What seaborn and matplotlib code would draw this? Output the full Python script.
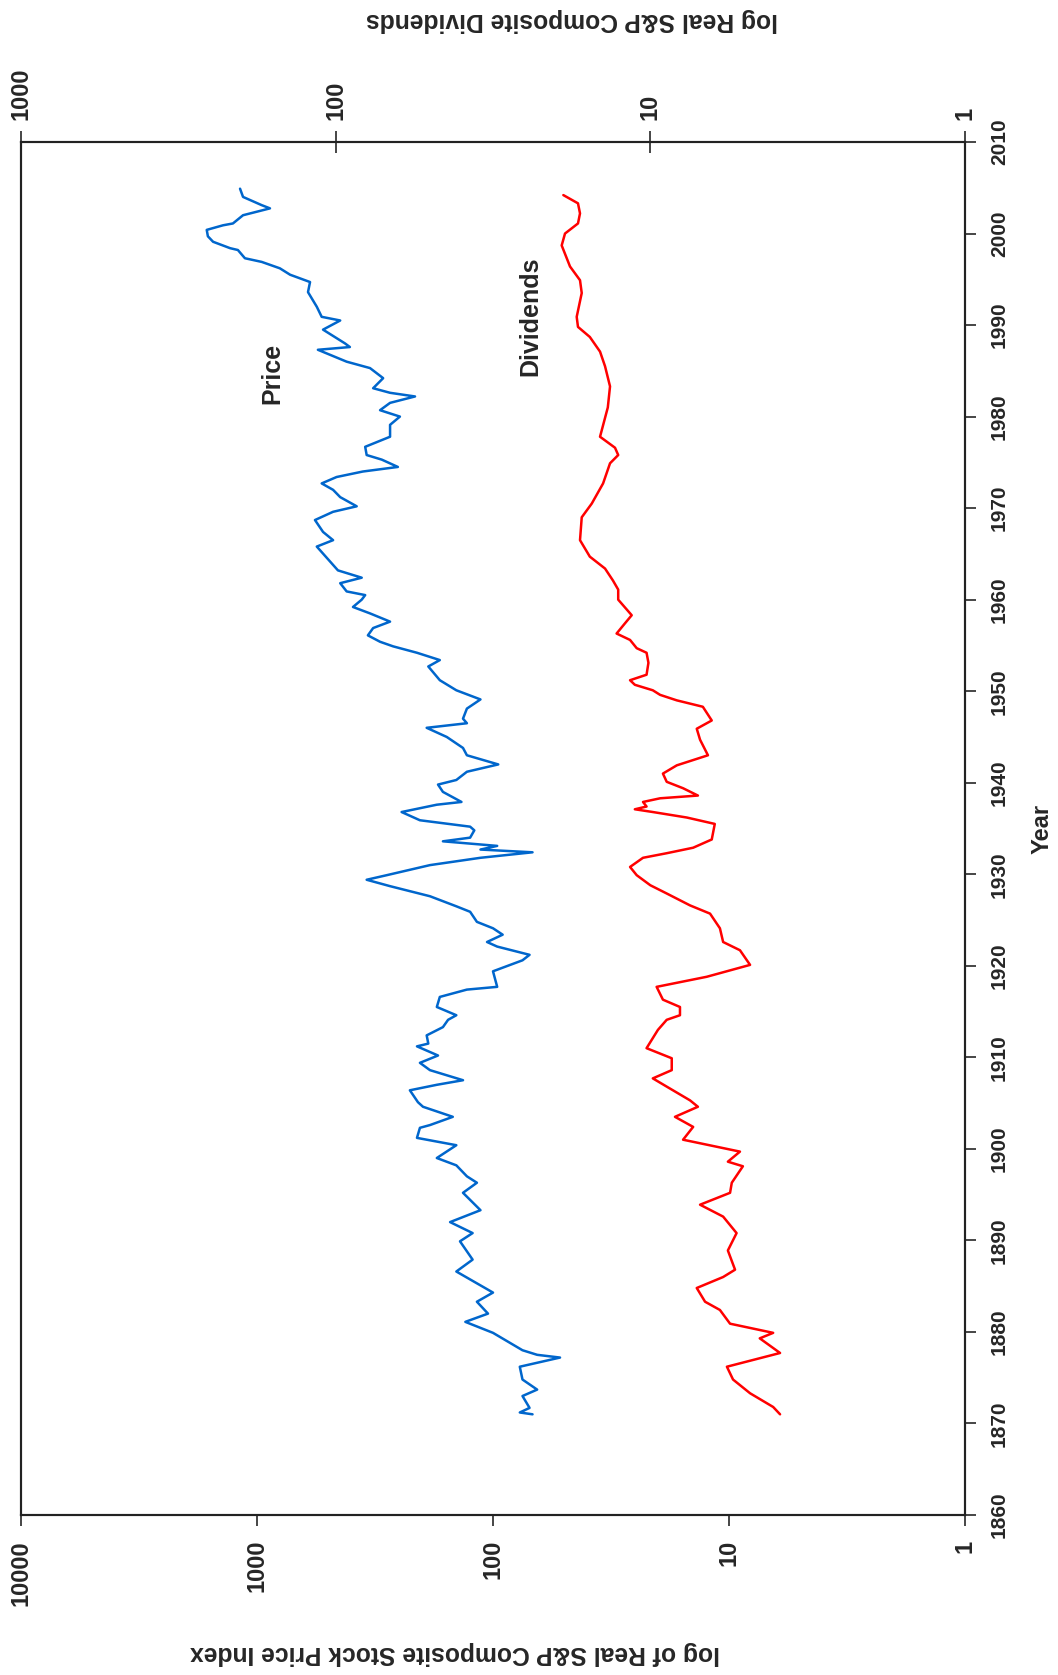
import numpy as np
import pandas as pd
import matplotlib
matplotlib.use('Agg')
import matplotlib.pyplot as plt
import seaborn as sns

# real S&P composite price index
price_year = [1871.0, 1871.2, 1871.7, 1873.0, 1873.7, 1874.8, 1876.2, 1877.2, 1877.5, 1878.0,
              1879.9, 1881.1, 1882.0, 1883.3, 1884.3, 1886.6, 1887.9, 1889.9, 1890.8, 1892.0,
              1893.3, 1895.2, 1896.3, 1897.0, 1898.2, 1899.0, 1900.4, 1901.2, 1902.3, 1902.6,
              1903.5, 1904.6, 1905.1, 1906.4, 1907.0, 1907.5, 1908.6, 1909.4, 1910.2, 1911.2,
              1911.5, 1912.4, 1913.3, 1914.1, 1914.6, 1915.5, 1916.6, 1917.4, 1917.7, 1919.4,
              1920.6, 1921.2, 1922.1, 1922.6, 1923.4, 1924.1, 1924.8, 1925.9, 1926.5, 1927.6,
              1928.7, 1929.4, 1929.9, 1931.0, 1931.8, 1932.4, 1932.7, 1933.1, 1933.6, 1934.0,
              1934.8, 1935.2, 1935.9, 1936.8, 1937.6, 1937.9, 1939.0, 1939.8, 1940.3, 1941.2,
              1942.0, 1943.0, 1943.8, 1945.0, 1946.0, 1946.5, 1947.0, 1948.1, 1949.1, 1950.1,
              1951.2, 1952.7, 1953.4, 1954.2, 1954.9, 1955.4, 1956.1, 1956.9, 1957.6, 1958.5,
              1959.2, 1960.0, 1960.5, 1960.9, 1961.8, 1962.4, 1963.2, 1964.6, 1965.8, 1966.5,
              1967.4, 1968.7, 1969.6, 1970.2, 1971.2, 1972.0, 1972.7, 1973.4, 1974.0, 1974.5,
              1975.3, 1975.8, 1976.7, 1977.8, 1979.1, 1980.0, 1980.7, 1981.5, 1982.2, 1982.6,
              1983.1, 1984.2, 1985.3, 1986.0, 1987.3, 1987.6, 1988.0, 1989.5, 1990.5, 1990.9,
              1992.0, 1993.6, 1994.7, 1995.5, 1996.2, 1996.9, 1997.3, 1998.2, 1998.4, 1999.1,
              1999.7, 2000.4, 2000.9, 2001.1, 2002.0, 2002.75, 2003.1, 2004.0, 2004.9]
price = [68, 77, 70, 75, 65, 75, 77, 52, 65, 75,
         100, 131, 105, 117, 100, 143, 122, 138, 122, 152,
         113, 134, 117, 129, 143, 173, 143, 210, 204, 185,
         148, 198, 208, 225, 173, 134, 185, 204, 171, 210,
         188, 191, 163, 155, 143, 173, 168, 129, 96, 100,
         75, 70, 96, 106, 91, 100, 117, 125, 143, 185,
         273, 343, 282, 185, 113, 68, 113, 96, 163, 125,
         120, 125, 204, 244, 173, 136, 163, 171, 143, 129,
         95, 129, 134, 157, 191, 129, 134, 129, 113, 143,
         168, 188, 168, 210, 265, 301, 339, 322, 273, 332,
         392, 360, 348, 417, 444, 360, 454, 507, 558, 476,
         525, 568, 476, 378, 444, 476, 532, 460, 356, 253,
         296, 343, 348, 273, 273, 248, 301, 273, 214, 273,
         322, 292, 332, 417, 552, 404, 424, 525, 444, 532,
         558, 608, 596, 724, 800, 955, 1125, 1205, 1300, 1535,
         1615, 1633, 1393, 1265, 1146, 881, 955, 1146, 1180]

# real S&P composite dividends
div_year = [1871.0, 1871.8, 1873.3, 1874.8, 1876.2, 1877.7, 1879.3, 1879.9, 1880.9, 1882.4,
            1883.3, 1884.8, 1886.0, 1886.8, 1888.9, 1890.8, 1892.6, 1893.9, 1895.2, 1896.3,
            1898.1, 1898.6, 1899.7, 1901.0, 1902.4, 1903.5, 1904.6, 1905.3, 1906.8, 1907.7,
            1908.6, 1909.9, 1911.0, 1913.0, 1914.1, 1914.6, 1915.5, 1916.3, 1917.7, 1918.8,
            1920.1, 1921.7, 1922.6, 1924.1, 1925.7, 1926.6, 1927.9, 1928.8, 1929.9, 1930.8,
            1931.8, 1932.3, 1932.9, 1933.8, 1935.5, 1936.2, 1936.8, 1937.1, 1937.4, 1937.9,
            1938.3, 1938.6, 1939.4, 1940.1, 1941.0, 1941.9, 1943.0, 1944.7, 1945.9, 1946.8,
            1948.3, 1949.0, 1949.6, 1950.1, 1950.7, 1951.2, 1951.8, 1953.1, 1954.2, 1954.7,
            1955.6, 1956.3, 1957.4, 1958.3, 1960.0, 1961.1, 1962.1, 1963.4, 1964.7, 1966.5,
            1969.0, 1970.5, 1972.7, 1974.9, 1975.8, 1976.6, 1977.8, 1981.0, 1983.3, 1985.5,
            1987.1, 1988.7, 1989.8, 1990.9, 1993.5, 1994.9, 1996.4, 1998.7, 2000.0, 2001.1,
            2002.2, 2003.3, 2004.2]
dividend = [3.87, 4.07, 4.82, 5.46, 5.71, 3.87, 4.49, 4.07, 5.58, 6.01,
            6.70, 7.12, 5.87, 5.38, 5.67, 5.32, 5.87, 6.95, 5.58, 5.51,
            5.08, 5.67, 5.19, 7.87, 7.31, 8.35, 7.06, 7.48, 8.87, 9.82,
            8.55, 8.55, 10.28, 9.46, 8.87, 8.05, 8.05, 9.12, 9.55, 6.62,
            4.82, 5.19, 5.87, 6.01, 6.46, 7.48, 8.87, 10.0, 11.05, 11.6,
            10.55, 8.87, 7.31, 6.38, 6.24, 7.66, 9.82, 11.2, 10.28, 10.55,
            9.31, 7.06, 7.87, 8.87, 9.12, 8.24, 6.56, 6.95, 7.12, 6.38,
            6.81, 8.24, 9.31, 9.82, 11.2, 11.6, 10.28, 10.14, 10.28, 11.05,
            11.6, 12.8, 12.05, 11.46, 12.65, 12.65, 13.15, 13.93, 15.57, 16.73,
            16.52, 15.35, 14.13, 13.43, 12.65, 12.95, 14.45, 13.65, 13.43, 13.93,
            14.45, 15.57, 16.98, 17.14, 16.52, 16.73, 18.0, 19.13, 18.67, 16.98,
            16.73, 16.98, 18.9]

price_ticks = [10000, 1000, 100, 10, 1]
div_ticks = [1000, 100, 10, 1]
year_ticks = list(range(1860, 2011, 10))

price_df = pd.DataFrame({'year': price_year, 'price': price})
div_df = pd.DataFrame({'year': div_year, 'dividend': dividend})

sns.set_style('white')
plt.rcParams['font.family'] = ['Liberation Sans', 'DejaVu Sans']
plt.rcParams['font.weight'] = 'bold'
plt.rcParams['axes.labelweight'] = 'bold'

fig, ax = plt.subplots(figsize=(10.58, 16.75), dpi=100)
ax2 = ax.twiny()
box = [21/1058, 1 - 1515/1675, 944/1058, 1373/1675]
ax.set_position(box)
ax2.set_position(box)

# the whole chart is turned on its side: years run up the right edge
sns.lineplot(data=price_df, x='price', y='year', sort=False, estimator=None,
             color='#0066CC', lw=1.8, ax=ax)
ax.set_xscale('log')
ax.set_xlim(10000, 1)
ax.set_ylim(1860, 2010)
ax.set_xticks(price_ticks)
ax.set_xticklabels([str(t) for t in price_ticks])
ax.xaxis.set_minor_locator(matplotlib.ticker.NullLocator())
ax.set_yticks(year_ticks)
ax.set_yticklabels([str(t) for t in year_ticks])
ax.yaxis.tick_right()
ax.yaxis.set_label_position('right')
ax.tick_params(axis='x', bottom=True, direction='out', length=8, width=1.2,
               labelsize=17, labelrotation=90, pad=10)
ax.tick_params(axis='y', right=True, left=False, direction='out', length=8, width=1.2,
               labelsize=15, labelrotation=90, pad=10)
for lab in ax.get_yticklabels():
    lab.set_verticalalignment('center')
ax.set_xlabel('log of Real S&P Composite Stock Price Index', fontsize=17.7, rotation=180)
ax.xaxis.set_label_coords(0.46, -0.092)
ax.set_ylabel('Year', fontsize=17, rotation=90)
ax.yaxis.set_label_coords(1.069, 0.5)

sns.lineplot(data=div_df, x='dividend', y='year', sort=False, estimator=None,
             color='#FF0000', lw=1.8, ax=ax2)
ax2.set_xscale('log')
ax2.set_xlim(1000, 1)
ax2.set_xticks(div_ticks)
ax2.set_xticklabels([str(t) for t in div_ticks])
ax2.xaxis.set_minor_locator(matplotlib.ticker.NullLocator())
ax2.tick_params(axis='x', top=True, direction='inout', length=16, width=1.2,
                labelsize=17, labelrotation=90, pad=8)
ax2.set_xlabel('log Real S&P Composite Dividends', fontsize=17.7, rotation=180)
ax2.xaxis.set_label_coords(0.584, 1.084)
ax2.set_ylabel('')

for a in (ax, ax2):
    for sp in a.spines.values():
        sp.set_visible(True)
        sp.set_color('#222222')
        sp.set_linewidth(1.5)

ax.text(860, 1984.7, 'Price', rotation=90, fontsize=18, fontweight='bold',
        ha='center', va='center')
ax2.text(24, 1991, 'Dividends', rotation=90, fontsize=18, fontweight='bold',
         ha='center', va='center')

fig.savefig('out.png', dpi=100)
